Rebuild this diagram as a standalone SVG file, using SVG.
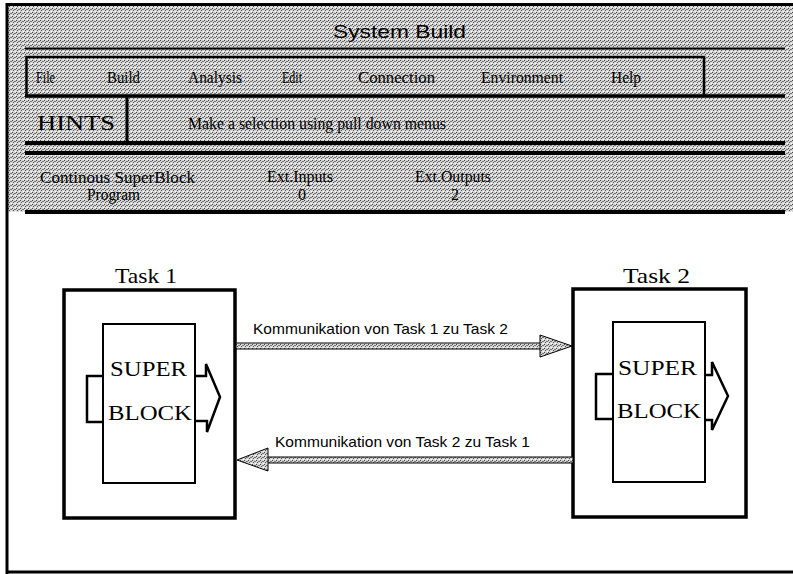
<svg xmlns="http://www.w3.org/2000/svg" width="793" height="574" viewBox="0 0 793 574">
<defs>
<pattern id="dither" width="4" height="4" patternUnits="userSpaceOnUse">
<rect width="4" height="4" fill="#d6d6d6"/>
<rect x="0" y="0" width="1" height="1" fill="#444"/>
<rect x="2" y="1" width="2" height="1" fill="#777"/>
<rect x="1" y="2" width="1" height="1" fill="#555"/>
<rect x="3" y="3" width="1" height="1" fill="#fff"/>
</pattern>
<style>
.serif{font-family:"Liberation Serif","Times New Roman",serif;fill:#000}
.sans{font-family:"Liberation Sans",Arial,sans-serif;fill:#000}
.menu{font-size:17px}
.info{font-size:16px}
.ln{stroke:#000;fill:none}
.box{fill:#fff;stroke:#000;stroke-width:3.5}
.inner{fill:#fff;stroke:#000;stroke-width:2}
.port{fill:none;stroke:#000;stroke-width:2.5;stroke-linejoin:miter}
.task{font-size:22px}
.sb{font-size:21px}
.arrow{fill:url(#dither);stroke:#000;stroke-width:1}
.lbl{font-size:15px}
</style>
</defs>
<rect width="793" height="574" fill="#fff"/>

<g id="header">
<rect x="8" y="6" width="785" height="206" fill="url(#dither)"/>
<line class="ln" x1="6" y1="4.5" x2="793" y2="4.5" stroke-width="3"/>
<text class="sans" x="333" y="38" font-size="19" textLength="133" lengthAdjust="spacingAndGlyphs">System Build</text>
<line class="ln" x1="25" y1="48.5" x2="785" y2="48.5" stroke-width="2"/>
</g>

<g id="menu">
<path class="ln" d="M26.5,97 V57 H704 V96" stroke-width="2.5"/>
<line class="ln" x1="25" y1="96" x2="785" y2="96" stroke-width="3.5"/>
<text class="serif menu" x="36" y="83" textLength="19" lengthAdjust="spacingAndGlyphs">File</text>
<text class="serif menu" x="107" y="83" textLength="33" lengthAdjust="spacingAndGlyphs">Build</text>
<text class="serif menu" x="188" y="83" textLength="54" lengthAdjust="spacingAndGlyphs">Analysis</text>
<text class="serif menu" x="282" y="83" textLength="20" lengthAdjust="spacingAndGlyphs">Edit</text>
<text class="serif menu" x="358" y="83" textLength="77" lengthAdjust="spacingAndGlyphs">Connection</text>
<text class="serif menu" x="481" y="83" textLength="82" lengthAdjust="spacingAndGlyphs">Environment</text>
<text class="serif menu" x="611" y="83" textLength="30" lengthAdjust="spacingAndGlyphs">Help</text>
</g>

<g id="hints">
<line class="ln" x1="127" y1="96" x2="127" y2="141" stroke-width="3"/>
<text class="serif" x="37" y="130" font-size="22" textLength="78" lengthAdjust="spacingAndGlyphs">HINTS</text>
<text class="serif" x="188" y="129" font-size="16" textLength="258" lengthAdjust="spacingAndGlyphs">Make a selection using pull down menus</text>
</g>

<g id="status">
<line class="ln" x1="25" y1="143" x2="785" y2="143" stroke-width="4"/>
<line class="ln" x1="25" y1="153" x2="785" y2="153" stroke-width="4"/>
<text class="serif info" x="40" y="183" textLength="155" lengthAdjust="spacingAndGlyphs">Continous SuperBlock</text>
<text class="serif info" x="87" y="200" textLength="53" lengthAdjust="spacingAndGlyphs">Program</text>
<text class="serif info" x="267" y="182" textLength="66" lengthAdjust="spacingAndGlyphs">Ext.Inputs</text>
<text class="serif info" x="298" y="200">0</text>
<text class="serif info" x="415" y="182" textLength="76" lengthAdjust="spacingAndGlyphs">Ext.Outputs</text>
<text class="serif info" x="451" y="200">2</text>
<line class="ln" x1="25" y1="212" x2="785" y2="212" stroke-width="4"/>
</g>

<g id="frame">
<line class="ln" x1="7" y1="3" x2="7" y2="574" stroke-width="3"/>
<line class="ln" x1="6" y1="572" x2="793" y2="572" stroke-width="3"/>
</g>

<g id="task1">
<text class="serif task" x="115" y="283" textLength="62" lengthAdjust="spacingAndGlyphs">Task 1</text>
<rect class="box" x="64" y="290" width="171" height="228"/>
<rect class="inner" x="103" y="324" width="92" height="159"/>
<path class="port" d="M103,376 H87 V422 H103"/>
<path class="port" d="M195,376 H206 V364 L220,397 L207,432 V421 H195"/>
<text class="serif sb" x="110" y="376" textLength="77" lengthAdjust="spacingAndGlyphs">SUPER</text>
<text class="serif sb" x="108" y="420" textLength="84" lengthAdjust="spacingAndGlyphs">BLOCK</text>
</g>

<g id="task2">
<text class="serif task" x="623" y="283" textLength="67" lengthAdjust="spacingAndGlyphs">Task 2</text>
<rect class="box" x="573" y="289" width="173" height="228"/>
<rect class="inner" x="613" y="322" width="92" height="160"/>
<path class="port" d="M613,374 H596 V419 H613"/>
<path class="port" d="M705,375 H712 V362 L728,396 L712,430 V420 H705"/>
<text class="serif sb" x="618" y="375" textLength="79" lengthAdjust="spacingAndGlyphs">SUPER</text>
<text class="serif sb" x="617" y="418" textLength="84" lengthAdjust="spacingAndGlyphs">BLOCK</text>
</g>

<g id="connectors">
<rect class="arrow" x="236" y="343" width="306" height="6"/>
<polygon class="arrow" points="540,335 572,346 540,357"/>
<text class="sans lbl" x="253" y="334" textLength="255" lengthAdjust="spacingAndGlyphs">Kommunikation von Task 1 zu Task 2</text>
<rect class="arrow" x="266" y="457" width="307" height="6"/>
<polygon class="arrow" points="268,448 237,460 268,471"/>
<text class="sans lbl" x="275" y="447" textLength="255" lengthAdjust="spacingAndGlyphs">Kommunikation von Task 2 zu Task 1</text>
</g>
</svg>
